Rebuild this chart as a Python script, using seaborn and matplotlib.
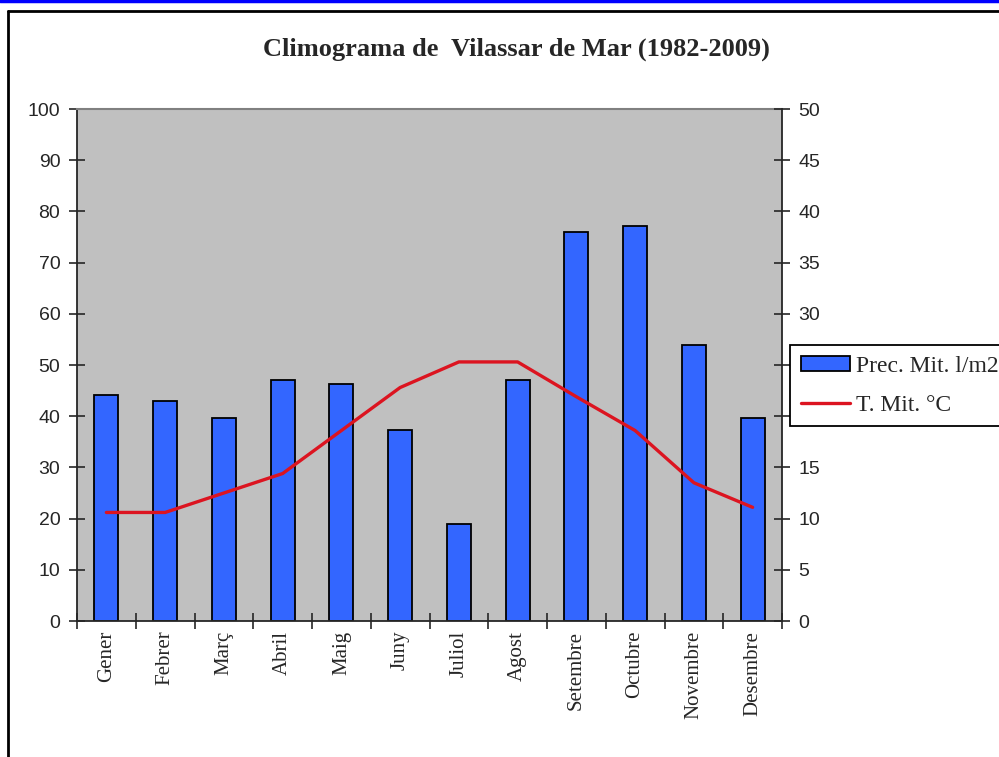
import numpy as np
import pandas as pd
import matplotlib
matplotlib.use("Agg")
import matplotlib.pyplot as plt
import seaborn as sns
from matplotlib.patches import Patch
from matplotlib.lines import Line2D

# dades del climograma
mesos = ["Gener", "Febrer", "Març", "Abril", "Maig", "Juny", "Juliol",
         "Agost", "Setembre", "Octubre", "Novembre", "Desembre"]
precipitacio = [44.1, 43.0, 39.7, 47.1, 46.3, 37.3, 18.9, 47.1, 76.0, 77.1, 53.9, 39.7]
temperatura = [10.6, 10.6, 12.5, 14.4, 18.6, 22.8, 25.3, 25.3, 21.9, 18.6, 13.5, 11.1]

sns.set_style("white")
serif = ["Liberation Serif", "DejaVu Serif"]
sans = ["Liberation Sans", "DejaVu Sans"]

fig = plt.figure(figsize=(9.99, 7.57), dpi=100)
ax = fig.add_axes([77 / 999, 1 - 621 / 757, 705 / 999, 512 / 757])
ax.set_facecolor("#c0c0c0")

df = pd.DataFrame({"mes": mesos, "prec": precipitacio, "temp": temperatura})
sns.barplot(data=df, x="mes", y="prec", ax=ax, color="#3366ff", width=0.41,
            edgecolor="black", linewidth=1.3, saturation=1)

ax2 = ax.twinx()
sns.lineplot(x=np.arange(12), y=df["temp"], ax=ax2, color="#dc1420", linewidth=2.4)

ax.set_xlim(-0.5, 11.5)
ax.set_ylim(0, 100)
ax2.set_ylim(0, 50)
ax.set_yticks(np.arange(0, 101, 10))
ax2.set_yticks(np.arange(0, 51, 5))
ax.set_xlabel("")
ax.set_ylabel("")
ax2.set_ylabel("")

# marques de categoria als límits
ax.set_xticks(np.arange(12))
ax.set_xticks(np.arange(-0.5, 12, 1), minor=True)
ax.set_xticklabels(mesos, rotation=90, fontfamily=serif, fontsize=15)
ax.tick_params(axis="x", which="major", length=0, pad=7)
ax.tick_params(axis="x", which="minor", length=12, direction="inout", width=1.2, bottom=True)
ax.tick_params(axis="y", length=12, direction="inout", width=1.2, labelsize=14, pad=6, left=True)
ax2.tick_params(axis="y", length=12, direction="inout", width=1.2, labelsize=14, pad=6, right=True)
for lab in ax.get_yticklabels() + ax2.get_yticklabels():
    lab.set_fontfamily(sans)

for a in (ax, ax2):
    for s in a.spines.values():
        s.set_visible(False)
    a.grid(False)
ax.spines["left"].set_visible(True)
ax.spines["bottom"].set_visible(True)
ax.spines["left"].set_linewidth(1.3)
ax.spines["bottom"].set_linewidth(1.3)
ax2.spines["right"].set_visible(True)
ax2.spines["right"].set_linewidth(1.3)
ax.spines["top"].set_visible(True)
ax.spines["top"].set_color("#808080")
ax.spines["top"].set_linewidth(1.5)

fig.text(516 / 999, 1 - 49 / 757, "Climograma de  Vilassar de Mar (1982-2009)",
         ha="center", va="center", fontsize=19, fontweight="bold", fontfamily=serif)

handles = [Patch(facecolor="#3366ff", edgecolor="black", linewidth=1.3),
           Line2D([0], [0], color="#dc1420", linewidth=2.4)]
leg = fig.legend(handles, ["Prec. Mit. l/m2", "T. Mit. °C"], loc="upper left",
                 bbox_to_anchor=(790 / 999, 1 - 345 / 757), frameon=True, fancybox=False,
                 edgecolor="black", facecolor="white", framealpha=1,
                 prop={"family": serif, "size": 17},
                 handlelength=2.1, handleheight=0.65, handletextpad=0.25, borderpad=0.45,
                 labelspacing=0.75, borderaxespad=0)
leg.get_frame().set_linewidth(1.3)
leg.set_zorder(10)

# marc exterior
fig.add_artist(Line2D([0, 1], [1 - 1 / 757, 1 - 1 / 757], color="#0000ff", linewidth=2.5,
                      transform=fig.transFigure))
fig.add_artist(Line2D([8 / 999, 1], [1 - 11 / 757, 1 - 11 / 757], color="black", linewidth=2,
                      transform=fig.transFigure))
fig.add_artist(Line2D([8 / 999, 8 / 999], [0, 1 - 11 / 757], color="black", linewidth=2,
                      transform=fig.transFigure))

fig.savefig("out.png", dpi=100)
